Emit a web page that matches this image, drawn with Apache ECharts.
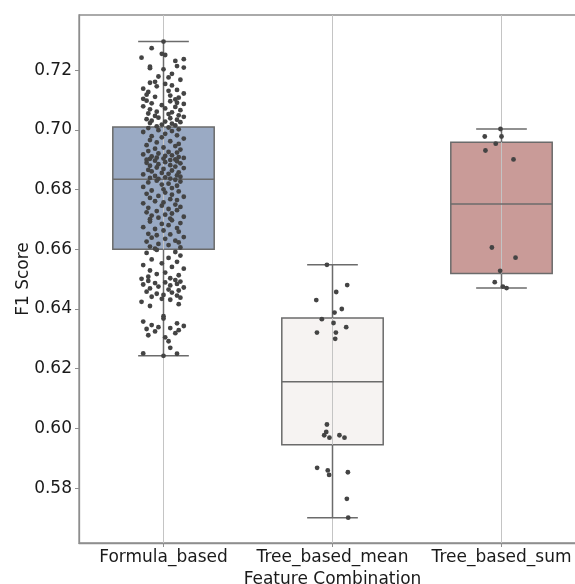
<!DOCTYPE html>
<html>
<head>
<meta charset="utf-8">
<script src="https://cdn.jsdelivr.net/npm/echarts@6/dist/echarts.min.js"></script>
<style>
html,body{margin:0;padding:0;background:#fff;}
#chart{width:575px;height:584px;}
</style>
</head>
<body>
<div id="chart"></div>
<script>
const categories = ['Formula_based', 'Tree_based_mean', 'Tree_based_sum'];
const yTicks = [0.58, 0.60, 0.62, 0.64, 0.66, 0.68, 0.70, 0.72];
const boxColors = ['#9aaac4', '#f6f3f2', '#c99b98'];

// box statistics: [lower whisker, Q1, median, Q3, upper whisker]
const formulaBox = [0.6243, 0.6600, 0.6835, 0.7010, 0.7296];
const treeMeanBox = [0.5701, 0.5945, 0.6156, 0.6370, 0.6548];
const treeSumBox = [0.6470, 0.6519, 0.6752, 0.6959, 0.7003];

// individual scores (strip points)
const formulaScores = [
  0.7296, 0.7274, 0.7255, 0.7251, 0.7242, 0.7237, 0.7231, 0.7214, 0.7212, 0.7209, 0.7207, 0.7203,
  0.7188, 0.7179, 0.7176, 0.7168, 0.7161, 0.7158, 0.7154, 0.7149, 0.7146, 0.7138, 0.7134, 0.7131,
  0.7127, 0.7122, 0.7118, 0.7115, 0.7111, 0.7108, 0.7104, 0.7102,
  0.7098, 0.7096, 0.7091, 0.7089, 0.7087, 0.7083, 0.7079, 0.7077, 0.7072, 0.7069, 0.7066, 0.7061,
  0.7059, 0.7055, 0.7053, 0.7049, 0.7047, 0.7044, 0.7041, 0.7039, 0.7036, 0.7034, 0.7031, 0.7028,
  0.7026, 0.7023, 0.7021, 0.7018, 0.7015, 0.7012,
  0.7008, 0.7006, 0.7002, 0.6999, 0.6996, 0.6993, 0.6987, 0.6982, 0.6979, 0.6975, 0.6971, 0.6966,
  0.6962, 0.6958, 0.6953, 0.6949, 0.6946, 0.6941, 0.6937, 0.6934, 0.6929, 0.6926, 0.6924, 0.6921,
  0.6918, 0.6915, 0.6913, 0.6911, 0.6909, 0.6907, 0.6906, 0.6904, 0.6903, 0.6901, 0.6900, 0.6899,
  0.6897, 0.6895, 0.6892, 0.6890, 0.6888, 0.6885, 0.6882, 0.6880, 0.6877, 0.6874, 0.6872, 0.6869,
  0.6866, 0.6864, 0.6861, 0.6858, 0.6856, 0.6853, 0.6851, 0.6848, 0.6846, 0.6843, 0.6841, 0.6839,
  0.6837, 0.6836,
  0.6833, 0.6830, 0.6827, 0.6824, 0.6820, 0.6817, 0.6813, 0.6809, 0.6805, 0.6801,
  0.6797, 0.6794, 0.6790, 0.6786, 0.6783, 0.6779, 0.6776, 0.6772, 0.6768, 0.6765, 0.6761, 0.6757,
  0.6754, 0.6750, 0.6746, 0.6742, 0.6739, 0.6735, 0.6731, 0.6728, 0.6724, 0.6720, 0.6716, 0.6713,
  0.6709, 0.6706, 0.6703, 0.6701,
  0.6697, 0.6693, 0.6688, 0.6685, 0.6681, 0.6674, 0.6671, 0.6668, 0.6663, 0.6659, 0.6652, 0.6650,
  0.6647, 0.6641, 0.6639, 0.6635, 0.6629, 0.6626, 0.6623, 0.6618, 0.6614, 0.6609, 0.6606, 0.6602,
  0.6598, 0.6591, 0.6588, 0.6579, 0.6571, 0.6566, 0.6558, 0.6553, 0.6547, 0.6541, 0.6535, 0.6529,
  0.6522, 0.6517, 0.6513, 0.6508, 0.6503, 0.6501,
  0.6497, 0.6494, 0.6492, 0.6489, 0.6487, 0.6484, 0.6482, 0.6479, 0.6475, 0.6472, 0.6469, 0.6465,
  0.6462, 0.6458, 0.6455, 0.6451, 0.6447, 0.6445, 0.6441, 0.6438, 0.6434, 0.6431, 0.6424, 0.6416,
  0.6410,
  0.6376, 0.6368, 0.6358, 0.6352, 0.6346, 0.6343, 0.6339, 0.6336, 0.6333, 0.6329, 0.6325, 0.6319,
  0.6312, 0.6305,
  0.6292, 0.6270, 0.6251, 0.6250, 0.6243
];
const formulaJitter = [
  0.00, -0.07, -0.01, 0.01, -0.13, 0.12, 0.07, 0.08, -0.08, 0.12, -0.08, 0.00,
  0.05, -0.03, 0.03, 0.10, -0.05, -0.08, 0.01, 0.05, -0.04, -0.12, 0.08, 0.03,
  -0.09, 0.12, -0.10, 0.04, -0.05, 0.09, -0.12, 0.07,
  -0.10, 0.04, 0.08, -0.07, 0.12, -0.01, -0.12, 0.07, 0.01, -0.08, 0.10, -0.04,
  0.05, -0.09, 0.03, 0.09, -0.05, 0.12, -0.03, 0.04, -0.10, 0.08, -0.07, 0.01,
  0.10, -0.08, 0.05, -0.01, 0.07, -0.04,
  0.03, -0.09, 0.09, -0.03, 0.05, -0.12, 0.01, 0.08, -0.07, -0.01, 0.12, -0.08,
  0.04, -0.04, 0.09, -0.10, 0.07, 0.00, -0.05, 0.10, -0.09, 0.03, 0.08, -0.03,
  -0.12, 0.05, 0.01, -0.07, 0.09, -0.04, 0.12, 0.00, -0.08, 0.07, -0.10, 0.04,
  -0.05, 0.08, 0.01, -0.10, 0.10, -0.03, 0.04, -0.08, 0.07, -0.04, 0.12, 0.00,
  -0.09, 0.05, -0.07, 0.09, -0.01, 0.03, -0.12, 0.08, -0.05, 0.10, 0.01, -0.08,
  0.04, -0.03,
  0.07, -0.04, 0.10, -0.09, 0.03, -0.01, 0.08, -0.12, 0.05, 0.00,
  -0.07, 0.09, 0.01, -0.10, 0.05, -0.03, 0.12, -0.08, 0.04, 0.08, -0.05, 0.00,
  -0.12, 0.07, -0.01, 0.10, -0.09, 0.03, 0.08, -0.04, -0.10, 0.05, 0.01, -0.07,
  0.12, -0.03, 0.04, -0.08,
  0.05, -0.08, 0.10, -0.01, 0.03, -0.12, 0.08, -0.05, 0.00, 0.09, -0.09, 0.04,
  -0.04, 0.12, -0.07, 0.01, 0.07, -0.10, 0.09, -0.03, 0.03, -0.08, 0.10, -0.05,
  -0.04, 0.07, -0.10, 0.10, 0.03, -0.07, 0.08, -0.01, -0.12, 0.05, 0.12, -0.08,
  0.01, -0.04, 0.09, -0.09, 0.04, -0.13,
  0.07, -0.09, 0.10, 0.01, -0.05, 0.08, -0.12, 0.04, -0.03, 0.12, -0.08, 0.03,
  0.09, -0.10, 0.05, -0.04, 0.00, 0.08, -0.07, 0.10, -0.01, 0.04, -0.13, 0.09,
  -0.08,
  0.00, 0.00, -0.12, 0.08, -0.07, 0.12, -0.03, 0.04, -0.10, 0.09, -0.05, 0.07,
  -0.09, 0.01,
  0.03, 0.04, -0.12, 0.08, 0.00
];
const treeMeanScores = [0.6548, 0.6480, 0.6457, 0.6430, 0.6400, 0.6388, 0.6366, 0.6353, 0.6339, 0.6321, 0.6321, 0.6300,
  0.6013, 0.5988, 0.5977, 0.5969, 0.5977, 0.5969, 0.5868, 0.5859, 0.5844, 0.5853, 0.5764, 0.5701];
const treeMeanJitter = [-0.033, 0.087, 0.022, -0.096, 0.055, 0.012, -0.063, 0.006, 0.081, -0.092, 0.020, 0.016,
  -0.033, -0.037, -0.049, -0.018, 0.041, 0.071, -0.091, -0.028, -0.020, 0.091, 0.085, 0.093];
const treeSumScores = [0.7003, 0.6978, 0.6978, 0.6954, 0.6931, 0.6901, 0.6606, 0.6572, 0.6528, 0.6490, 0.6475, 0.6470];
const treeSumJitter = [-0.006, -0.099, 0.000, -0.034, -0.095, 0.071, -0.057, 0.083, -0.008, -0.040, 0.008, 0.030];

const boxes = [formulaBox, treeMeanBox, treeSumBox];
const scoreSets = [formulaScores, treeMeanScores, treeSumScores];
const jitterSets = [formulaJitter, treeMeanJitter, treeSumJitter];

const boxData = boxes.map((b, i) => [i].concat(b));
const pointData = [];
scoreSets.forEach((scores, i) => {
  scores.forEach((v, k) => pointData.push([i + (jitterSets[i][k] || 0), v]));
});

const FONT = 'DejaVu Sans';
const lineGray = '#6b6b6b';
const gridGray = '#c4c4c4';
const spineGray = '#8e8e8e';

const chart = echarts.init(document.getElementById('chart'), null, {renderer: 'canvas'});
chart.setOption({
  animation: false,
  backgroundColor: '#ffffff',
  grid: {left: 79, top: 15, width: 507, height: 528, show: true, borderColor: spineGray, borderWidth: 1.3,
    containLabel: false, outerBoundsMode: 'none'},
  xAxis: [{
    type: 'category',
    data: categories,
    boundaryGap: true,
    name: 'Feature Combination',
    nameLocation: 'middle',
    nameGap: 27,
    nameTextStyle: {fontFamily: FONT, fontSize: 17, color: '#1a1a1a'},
    axisLine: {show: true, onZero: false, lineStyle: {color: spineGray, width: 1.3}},
    axisTick: {show: true, alignWithLabel: true, length: 4, lineStyle: {color: spineGray}},
    axisLabel: {fontFamily: FONT, fontSize: 17, color: '#1a1a1a', margin: 6, interval: 0},
    splitLine: {show: false}
  }, {
    type: 'value',
    min: -0.5, max: 2.5,
    show: false
  }],
  yAxis: {
    type: 'value',
    min: 0.5616, max: 0.7385,
    name: 'F1 Score',
    nameLocation: 'middle',
    nameGap: 47,
    nameMoveOverlap: false,
    nameTextStyle: {fontFamily: FONT, fontSize: 17, color: '#1a1a1a'},
    axisLine: {show: true, onZero: false, lineStyle: {color: spineGray, width: 1.3}},
    axisTick: {show: true, length: 4, customValues: yTicks, lineStyle: {color: spineGray}},
    axisLabel: {fontFamily: FONT, fontSize: 17, color: '#1a1a1a', margin: 7, customValues: yTicks,
      formatter: v => v.toFixed(2)},
    splitLine: {show: false}
  },
  series: [{
    type: 'custom',
    xAxisIndex: 0,
    yAxisIndex: 0,
    z: 2,
    data: boxData,
    encode: {x: 0, y: [1, 2, 3, 4, 5]},
    renderItem: function (params, api) {
      const idx = api.value(0);
      const band = api.size([1, 0])[0];
      const bw = band * 0.6;
      const cw = band * 0.3;
      const pMin = api.coord([idx, api.value(1)]);
      const pQ1 = api.coord([idx, api.value(2)]);
      const pMed = api.coord([idx, api.value(3)]);
      const pQ3 = api.coord([idx, api.value(4)]);
      const pMax = api.coord([idx, api.value(5)]);
      const cx = pMed[0];
      const cs = params.coordSys;
      const ls = {stroke: lineGray, lineWidth: 1.5};
      return {
        type: 'group',
        children: [
          {type: 'rect', shape: {x: cx - bw / 2, y: pQ3[1], width: bw, height: pQ1[1] - pQ3[1]},
            style: {fill: boxColors[idx], stroke: lineGray, lineWidth: 1.5}},
          {type: 'line', shape: {x1: cx, y1: cs.y, x2: cx, y2: cs.y + cs.height},
            style: {stroke: gridGray, lineWidth: 1}},
          {type: 'line', shape: {x1: cx - bw / 2, y1: pMed[1], x2: cx + bw / 2, y2: pMed[1]}, style: ls},
          {type: 'line', shape: {x1: cx, y1: pQ3[1], x2: cx, y2: pMax[1]}, style: ls},
          {type: 'line', shape: {x1: cx, y1: pQ1[1], x2: cx, y2: pMin[1]}, style: ls},
          {type: 'line', shape: {x1: cx - cw / 2, y1: pMax[1], x2: cx + cw / 2, y2: pMax[1]}, style: ls},
          {type: 'line', shape: {x1: cx - cw / 2, y1: pMin[1], x2: cx + cw / 2, y2: pMin[1]}, style: ls}
        ]
      };
    }
  }, {
    type: 'scatter',
    xAxisIndex: 1,
    yAxisIndex: 0,
    z: 5,
    data: pointData,
    symbol: 'circle',
    symbolSize: 4.8,
    itemStyle: {color: '#444444', opacity: 1},
    silent: true
  }]
});
</script>
</body>
</html>
